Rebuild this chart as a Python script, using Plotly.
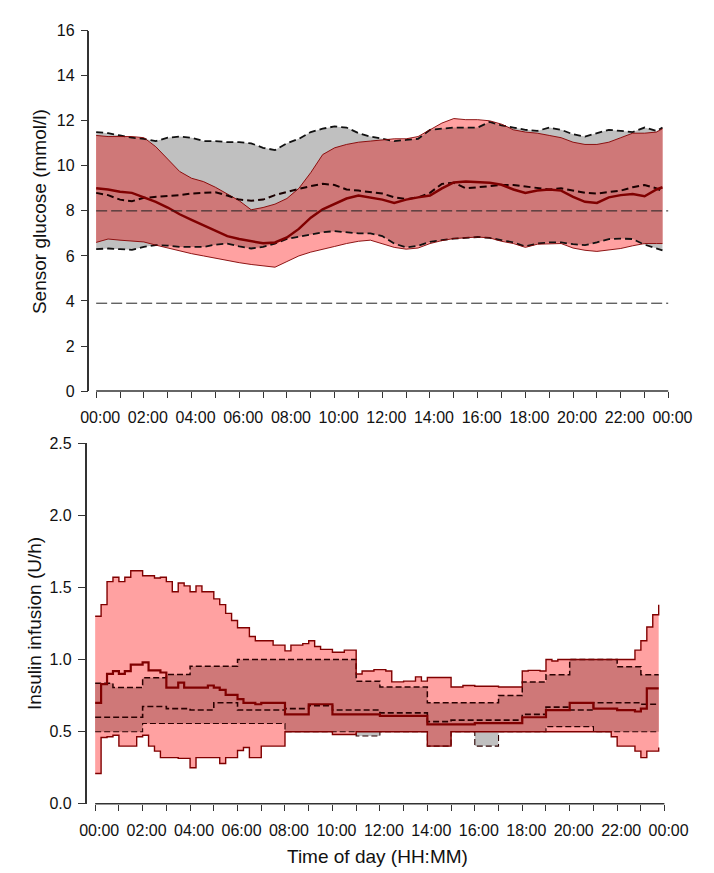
import numpy as np
import plotly.graph_objects as go

# ---------------- Top panel: sensor glucose (mmol/l), 30-min grid ----------------
glu_time_h = [0, 0.5, 1, 1.5, 2, 2.5, 3, 3.5, 4, 4.5, 5, 5.5, 6, 6.5, 7, 7.5, 8, 8.5, 9, 9.5,
              10, 10.5, 11, 11.5, 12, 12.5, 13, 13.5, 14, 14.5, 15, 15.5, 16, 16.5, 17, 17.5,
              18, 18.5, 19, 19.5, 20, 20.5, 21, 21.5, 22, 22.5, 23, 23.5, 23.75]

ctrl_glu_q3 = [11.5, 11.45, 11.35, 11.25, 11.2, 11.1, 11.25, 11.3, 11.25, 11.1, 11.1, 11.05, 11.05, 11.0,
               10.8, 10.7, 11.0, 11.2, 11.5, 11.65, 11.75, 11.7, 11.45, 11.3, 11.2, 11.1, 11.15, 11.2,
               11.6, 11.65, 11.7, 11.7, 11.7, 11.95, 11.8, 11.7, 11.6, 11.55, 11.7, 11.6, 11.4, 11.3,
               11.45, 11.6, 11.55, 11.5, 11.7, 11.55, 11.7]
ctrl_glu_med = [8.8, 8.7, 8.5, 8.43, 8.58, 8.62, 8.65, 8.7, 8.77, 8.8, 8.83, 8.68, 8.5, 8.45, 8.5, 8.7,
                8.85, 8.98, 9.1, 9.2, 9.15, 8.95, 8.9, 8.85, 8.77, 8.6, 8.52, 8.6, 8.8, 9.2, 9.25, 9.0,
                9.05, 9.12, 9.15, 9.15, 9.09, 9.0, 8.95, 9.0, 8.9, 8.8, 8.77, 8.85, 8.9, 9.05, 9.15,
                9.0, 8.87]
ctrl_glu_q1 = [6.3, 6.33, 6.3, 6.27, 6.4, 6.48, 6.46, 6.4, 6.4, 6.4, 6.5, 6.55, 6.42, 6.33, 6.4, 6.55,
               6.75, 6.85, 6.92, 7.05, 7.1, 7.05, 7.0, 7.0, 6.88, 6.55, 6.38, 6.45, 6.62, 6.7, 6.77,
               6.8, 6.84, 6.8, 6.7, 6.6, 6.42, 6.55, 6.6, 6.6, 6.52, 6.48, 6.6, 6.75, 6.77, 6.75,
               6.5, 6.35, 6.25]

int_glu_q3 = [11.35, 11.3, 11.3, 11.3, 11.25, 10.85, 10.3, 9.75, 9.45, 9.3, 9.05, 8.75, 8.45, 8.05,
              8.15, 8.3, 8.55, 9.0, 9.7, 10.5, 10.8, 10.95, 11.05, 11.1, 11.15, 11.2, 11.2, 11.3,
              11.6, 11.9, 12.1, 12.05, 12.05, 12.0, 11.85, 11.6, 11.5, 11.45, 11.35, 11.25, 11.05,
              10.95, 10.95, 11.05, 11.25, 11.45, 11.45, 11.5, 11.65]
int_glu_med = [9.0, 8.95, 8.85, 8.8, 8.6, 8.4, 8.15, 7.85, 7.6, 7.35, 7.1, 6.88, 6.75, 6.65, 6.56,
               6.6, 6.82, 7.2, 7.7, 8.07, 8.3, 8.55, 8.68, 8.6, 8.5, 8.35, 8.5, 8.6, 8.68, 9.0, 9.26,
               9.3, 9.28, 9.25, 9.16, 8.95, 8.8, 8.9, 8.95, 8.9, 8.62, 8.4, 8.35, 8.6, 8.7, 8.75,
               8.65, 8.95, 9.05]
int_glu_q1 = [6.6, 6.75, 6.7, 6.65, 6.62, 6.48, 6.35, 6.2, 6.1, 6.0, 5.9, 5.78, 5.7, 5.62, 5.55, 5.5,
              5.75, 6.0, 6.17, 6.28, 6.42, 6.55, 6.65, 6.7, 6.55, 6.38, 6.3, 6.35, 6.55, 6.68, 6.77,
              6.8, 6.84, 6.8, 6.65, 6.55, 6.38, 6.52, 6.55, 6.55, 6.35, 6.25, 6.2, 6.25, 6.33, 6.45,
              6.55, 6.55, 6.55]

glu_ref_lines = [8.0, 3.9]

# ---------------- Bottom panel: insulin infusion (U/h), step breakpoints ----------------
int_ins_q3_t = [0, 0.25, 0.5, 0.75, 1.0, 1.25, 1.5, 2.0, 2.5, 2.75, 3.0, 3.25, 3.5, 3.75, 4.0, 4.25, 4.5,
                5.0, 5.25, 5.5, 5.75, 6.0, 6.5, 6.75, 7.5, 8.0, 8.25, 8.75, 9.0, 9.25, 9.5, 10.0, 10.5,
                11.0, 11.25, 11.75, 12.25, 12.5, 13.0, 13.5, 13.75, 14.0, 15.0, 15.5, 16.0, 17.0, 18.0,
                18.25, 18.75, 19.0, 19.25, 19.5, 22.75, 23.0, 23.25, 23.5, 23.75]
int_ins_q3 = [1.30, 1.38, 1.54, 1.57, 1.54, 1.57, 1.615, 1.58, 1.565, 1.57, 1.54, 1.47, 1.53, 1.51, 1.47,
              1.51, 1.47, 1.42, 1.38, 1.32, 1.27, 1.22, 1.16, 1.13, 1.10, 1.06, 1.10, 1.11, 1.13, 1.09,
              1.07, 1.05, 1.065, 0.90, 0.92, 0.93, 0.92, 0.845, 0.85, 0.88, 0.85, 0.875, 0.81, 0.82,
              0.815, 0.81, 0.92, 0.925, 0.92, 1.0, 0.99, 1.0, 1.065, 1.13, 1.225, 1.31, 1.38]

int_ins_med_t = [0, 0.25, 0.5, 0.75, 1.0, 1.25, 1.5, 2.0, 2.25, 2.75, 3.0, 3.5, 3.75, 4.75, 5.0, 5.25,
                 5.5, 6.0, 6.25, 6.75, 7.0, 8.0, 9.0, 10.0, 12.0, 14.0, 15.0, 16.0, 17.0, 18.0, 19.0,
                 20.0, 21.0, 22.0, 22.75, 23.0, 23.25, 23.75]
int_ins_med = [0.70, 0.83, 0.90, 0.92, 0.90, 0.92, 0.965, 0.98, 0.925, 0.91, 0.805, 0.84, 0.805, 0.82,
               0.805, 0.79, 0.755, 0.725, 0.70, 0.69, 0.70, 0.62, 0.69, 0.62, 0.61, 0.55, 0.55, 0.56,
               0.56, 0.60, 0.65, 0.70, 0.66, 0.65, 0.64, 0.66, 0.80, 0.80]

int_ins_q1_t = [0, 0.25, 0.5, 0.75, 1.0, 1.75, 2.0, 2.25, 2.5, 2.75, 3.5, 4.0, 4.25, 5.25, 5.5, 6.0,
                6.25, 6.5, 7.0, 8.0, 10.0, 11.0, 14.0, 15.0, 21.75, 22.0, 22.75, 23.0, 23.25, 23.75]
int_ins_q1 = [0.21, 0.46, 0.465, 0.475, 0.40, 0.465, 0.475, 0.40, 0.365, 0.32, 0.315, 0.25, 0.32, 0.28,
              0.32, 0.37, 0.39, 0.32, 0.40, 0.50, 0.48, 0.50, 0.40, 0.50, 0.465, 0.40, 0.365, 0.32,
              0.365, 0.39]

ctrl_ins_q3_t = [0, 0.75, 2.0, 3.0, 4.0, 6.0, 11.0, 12.0, 14.0, 17.0, 18.0, 19.0, 20.0, 22.0, 23.0, 23.75]
ctrl_ins_q3 = [0.835, 0.806, 0.874, 0.896, 0.953, 1.0, 0.85, 0.81, 0.70, 0.75, 0.845, 0.895, 1.0, 0.95,
               0.895, 0.895]

ctrl_ins_med_t = [0, 2.0, 3.0, 4.0, 5.0, 6.0, 8.0, 9.0, 10.0, 12.0, 14.0, 15.0, 17.0, 18.0, 19.0, 20.0,
                  21.0, 23.0, 23.75]
ctrl_ins_med = [0.60, 0.675, 0.66, 0.65, 0.70, 0.65, 0.66, 0.68, 0.65, 0.63, 0.57, 0.58, 0.58, 0.62,
                0.67, 0.65, 0.70, 0.69, 0.69]

ctrl_ins_q1_t = [0, 2.0, 8.0, 11.0, 12.0, 14.0, 15.0, 16.0, 17.0, 19.0, 21.0, 23.75]
ctrl_ins_q1 = [0.50, 0.557, 0.50, 0.47, 0.50, 0.40, 0.50, 0.40, 0.50, 0.535, 0.50, 0.50]

hour_ticks = list(range(0, 25))
hour_labels = ["%02d:00" % (h % 24) if h % 2 == 0 else "" for h in hour_ticks]

# ---------------- styling ----------------
FONT = "Liberation Sans, Arial, sans-serif"
GREY = "#C0C0C0"
PINK = "#FFA1A1"
OVER = "#CF7878"
DRED = "#800000"
AXC = "#333333"

fig = go.Figure()


def band(xs, lo, hi, color, xa, ya, shape):
    fig.add_trace(go.Scatter(x=xs, y=lo, mode="lines", line=dict(width=0, shape=shape),
                             hoverinfo="skip", showlegend=False, xaxis=xa, yaxis=ya))
    fig.add_trace(go.Scatter(x=xs, y=hi, mode="lines", line=dict(width=0, shape=shape),
                             fill="tonexty", fillcolor=color, hoverinfo="skip",
                             showlegend=False, xaxis=xa, yaxis=ya))


def line(xs, ys, color, width, dash, xa, ya, shape):
    fig.add_trace(go.Scatter(x=xs, y=ys, mode="lines",
                             line=dict(color=color, width=width, dash=dash, shape=shape),
                             hoverinfo="skip", showlegend=False, xaxis=xa, yaxis=ya))


# ---- top panel ----
t = np.array(glu_time_h)
c1, c3 = np.array(ctrl_glu_q1), np.array(ctrl_glu_q3)
i1, i3 = np.array(int_glu_q1), np.array(int_glu_q3)
ov_lo = np.maximum(c1, i1)
ov_hi = np.maximum(ov_lo, np.minimum(c3, i3))

band(t, c1, c3, GREY, "x", "y", "linear")
band(t, i1, i3, PINK, "x", "y", "linear")
band(t, ov_lo, ov_hi, OVER, "x", "y", "linear")

line(t, ctrl_glu_q3, "#111111", 1.8, "7px,4px", "x", "y", "linear")
line(t, ctrl_glu_q1, "#111111", 1.8, "7px,4px", "x", "y", "linear")
line(t, int_glu_q3, DRED, 0.9, "solid", "x", "y", "linear")
line(t, int_glu_q1, DRED, 0.9, "solid", "x", "y", "linear")
line(t, ctrl_glu_med, "#1a0000", 2.0, "7px,4px", "x", "y", "linear")
line(t, int_glu_med, DRED, 2.5, "solid", "x", "y", "linear")

# ---- bottom panel ----
grid = np.arange(0, 24, 0.25)


def step_eval(tb, vb):
    tb = np.array(tb)
    vb = np.array(vb)
    idx = np.searchsorted(tb, grid, side="right") - 1
    vals = vb[idx]
    # append the final breakpoint value at the end of the record
    return np.append(vals, vb[-1])


g = np.append(grid, int_ins_q3_t[-1])
b_i3 = step_eval(int_ins_q3_t, int_ins_q3)
b_i1 = step_eval(int_ins_q1_t, int_ins_q1)
b_im = step_eval(int_ins_med_t, int_ins_med)
b_c3 = step_eval(ctrl_ins_q3_t, ctrl_ins_q3)
b_c1 = step_eval(ctrl_ins_q1_t, ctrl_ins_q1)
b_cm = step_eval(ctrl_ins_med_t, ctrl_ins_med)
b_ol = np.maximum(b_c1, b_i1)
b_oh = np.maximum(b_ol, np.minimum(b_c3, b_i3))

band(g, b_c1, b_c3, GREY, "x2", "y2", "hv")
band(g, b_i1, b_i3, PINK, "x2", "y2", "hv")
band(g, b_ol, b_oh, OVER, "x2", "y2", "hv")

line(g, b_c3, "#2a0000", 1.5, "6px,3px", "x2", "y2", "hv")
line(g, b_c1, "#2a0000", 1.1, "6px,3px", "x2", "y2", "hv")
line(g, b_i3, DRED, 1.4, "solid", "x2", "y2", "hv")
line(g, b_i1, DRED, 1.4, "solid", "x2", "y2", "hv")
line(g, b_cm, "#2a0000", 1.6, "6px,3px", "x2", "y2", "hv")
line(g, b_im, DRED, 2.2, "solid", "x2", "y2", "hv")

# reference lines (top panel)
for v in glu_ref_lines:
    fig.add_shape(type="line", xref="x", yref="y", x0=0, x1=24, y0=v, y1=v,
                  line=dict(color="#222222", width=1, dash="11px,4px"))

# detached x-axis lines
fig.add_shape(type="line", xref="x", yref="y domain", x0=0, x1=24, y0=0, y1=0,
              line=dict(color=AXC, width=1.5))
fig.add_shape(type="line", xref="x2", yref="y2 domain", x0=0, x1=24, y0=0, y1=0,
              line=dict(color=AXC, width=1.5))

W, H = 714, 873
tick_font = dict(family=FONT, size=16, color="#111111")

xcommon = dict(tickmode="array", tickvals=hour_ticks, ticktext=hour_labels, ticks="outside",
               ticklen=6, tickwidth=1.3, tickcolor=AXC, showline=False, showgrid=False,
               zeroline=False, tickfont=tick_font, ticklabelstandoff=6, ticklabelshift=4)
ycommon = dict(ticks="outside", ticklen=7, tickwidth=1.3, tickcolor=AXC, showline=True,
               linecolor=AXC, linewidth=1.5, showgrid=False, zeroline=False, tickfont=tick_font,
               ticklabelstandoff=3)

fig.update_layout(
    width=W, height=H, margin=dict(l=0, r=0, t=0, b=0),
    paper_bgcolor="white", plot_bgcolor="rgba(0,0,0,0)",
    font=dict(family=FONT, size=16, color="#111111"),
    showlegend=False,
    xaxis=dict(domain=[76 / W, 683 / W], range=[-0.28, 24], anchor="y", **xcommon),
    yaxis=dict(domain=[1 - 382.5 / H, 1 - 15 / H], range=[0, 16], tickvals=list(range(0, 17, 2)),
               anchor="x", **ycommon),
    xaxis2=dict(domain=[73 / W, 679 / W], range=[-0.36, 24], anchor="y2", **xcommon),
    yaxis2=dict(domain=[1 - 803.5 / H, 1 - 435.5 / H], range=[0, 2.5],
                tickvals=[0, 0.5, 1.0, 1.5, 2.0, 2.5], tickformat=".1f", anchor="x2", **ycommon),
    annotations=[
        dict(text="Sensor glucose (mmol/l)", textangle=-90, xref="paper", yref="paper",
             x=23 / W, y=1 - 199 / H, showarrow=False, font=dict(family=FONT, size=19),
             xanchor="center", yanchor="middle"),
        dict(text="Insulin infusion (U/h)", textangle=-90, xref="paper", yref="paper",
             x=19 / W, y=1 - 620 / H, showarrow=False, font=dict(family=FONT, size=19),
             xanchor="center", yanchor="middle"),
        dict(text="Time of day (HH:MM)", xref="paper", yref="paper",
             x=378 / W, y=1 - 857 / H, showarrow=False, font=dict(family=FONT, size=19),
             xanchor="center", yanchor="middle"),
    ],
)

fig.write_html("out.html")
